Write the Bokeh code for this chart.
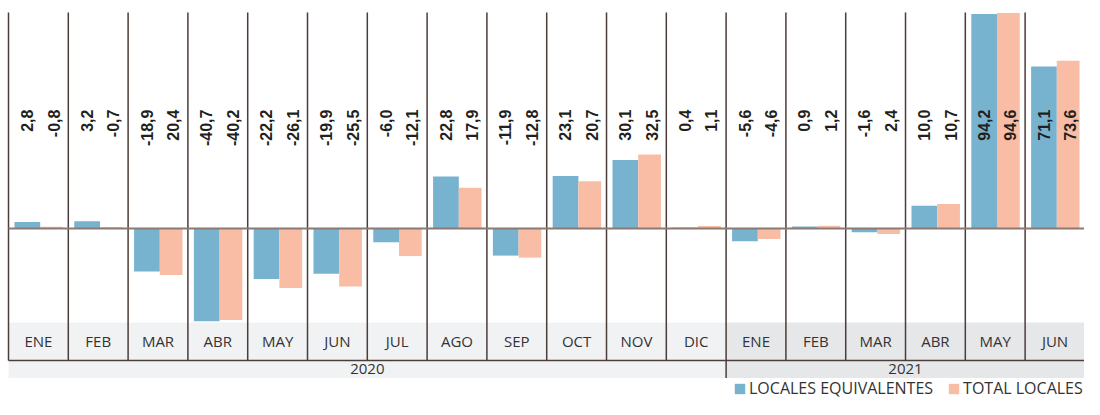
from bokeh.plotting import figure
from bokeh.models import ColumnDataSource, Range1d, Legend, LegendItem
from bokeh.core.properties import value
from bokeh.embed import file_html
from bokeh.resources import INLINE
import math

# ---------------- data ----------------
months = ["ENE", "FEB", "MAR", "ABR", "MAY", "JUN", "JUL", "AGO", "SEP", "OCT", "NOV", "DIC",
          "ENE", "FEB", "MAR", "ABR", "MAY", "JUN"]
years = ["2020"] * 12 + ["2021"] * 6

# bar heights as drawn
equiv_bar = [2.8, 3.2, -18.9, -40.7, -22.2, -19.9, -6.0, 22.8, -11.9, 23.1, 30.1, 0.4,
             -5.6, 0.9, -1.6, 10.0, 94.2, 71.1]
total_bar = [0.8, 0.7, -20.4, -40.2, -26.1, -25.5, -12.1, 17.9, -12.8, 20.7, 32.5, 1.1,
             -4.6, 1.2, -2.4, 10.7, 94.6, 73.6]

# printed value labels
equiv_lbl = ["2,8", "3,2", "-18,9", "-40,7", "-22,2", "-19,9", "-6,0", "22,8", "-11,9", "23,1",
             "30,1", "0,4", "-5,6", "0,9", "-1,6", "10,0", "94,2", "71,1"]
total_lbl = ["-0,8", "-0,7", "20,4", "-40,2", "-26,1", "-25,5", "-12,1", "17,9", "-12,8", "20,7",
             "32,5", "1,1", "-4,6", "1,2", "2,4", "10,7", "94,6", "73,6"]

series_names = ["LOCALES EQUIVALENTES", "TOTAL LOCALES"]

# ---------------- styling ----------------
BLUE = "#77b3cf"
PINK = "#f9bda6"
BAND = {"2020": "#f1f2f3", "2021": "#e6e7e9"}
LINE = "#4b3d39"
TXT = "#231f20"

n = len(months)
idx = list(range(n))

p = figure(width=1084, height=399, output_backend="svg", toolbar_location=None,
           x_range=Range1d(-0.1338, 17.993), y_range=Range1d(-75.07, 100.09),
           x_axis_type=None, y_axis_type=None, min_border=0)
p.outline_line_color = None
p.xgrid.visible = False
p.ygrid.visible = False
p.background_fill_color = "white"

MB_TOP, MB_BOT = -41.3, -57.9
YB_TOP, YB_BOT = -58.3, -65.6
LINE_TOP = 94.8

# month band
mb = ColumnDataSource(dict(left=idx, right=[i + 1 for i in idx],
                           color=[BAND[y] for y in years], month=months,
                           xc=[i + 0.5 for i in idx]))
p.quad(left="left", right="right", top=MB_TOP, bottom=MB_BOT, fill_color="color",
       line_color=None, source=mb)

# year band
yr_names, yr_left, yr_right = [], [], []
for i, y in enumerate(years):
    if not yr_names or yr_names[-1] != y:
        yr_names.append(y)
        yr_left.append(i)
        yr_right.append(i + 1)
    else:
        yr_right[-1] = i + 1
yb = ColumnDataSource(dict(left=yr_left, right=yr_right, name=yr_names,
                           color=[BAND[y] for y in yr_names],
                           xc=[(l + r) / 2 for l, r in zip(yr_left, yr_right)]))
p.quad(left="left", right="right", top=YB_TOP, bottom=YB_BOT, fill_color="color",
       line_color=None, source=yb)

# vertical separators
p.segment(x0=list(range(n + 1)), x1=list(range(n + 1)), y0=MB_BOT, y1=LINE_TOP,
          line_color=LINE, line_width=1.5)
# year divider
p.segment(x0=yr_left[1:], x1=yr_left[1:], y0=MB_BOT, y1=YB_BOT,
          line_color=LINE, line_width=1.5)
# bottom of month band
p.segment(x0=0, x1=n, y0=MB_BOT, y1=MB_BOT, line_color=LINE, line_width=1.5)

# bars
src = ColumnDataSource(dict(
    xb=[i + 0.315 for i in idx], xp=[i + 0.72 for i in idx],
    eb=equiv_bar, tb=total_bar, el=equiv_lbl, tl=total_lbl,
    xlb=[i + 0.31 for i in idx], xlp=[i + 0.755 for i in idx]))
rb = p.vbar(x="xb", width=0.43, top="eb", bottom=0, fill_color=BLUE, line_color=None, source=src)
rp = p.vbar(x="xp", width=0.38, top="tb", bottom=0, fill_color=PINK, line_color=None, source=src)

# zero line
p.segment(x0=0, x1=n, y0=0, y1=0, line_color="#8b7a73", line_width=2)

# value labels
for xcol, lcol in (("xlb", "el"), ("xlp", "tl")):
    p.text(x=xcol, y=52.2, text=lcol, angle=math.pi / 2, text_align="right",
           text_baseline="middle", text_font=value("Liberation Sans"),
           text_font_style="bold", text_font_size="16px", text_color=TXT, source=src)

# month labels
p.text(x="xc", y=-49.6, text="month", text_align="center", text_baseline="middle",
       text_font=value("Open Sans"), text_font_size="15px", text_color="#333333", source=mb)
# year labels
p.text(x="xc", y=-61.9, text="name", text_align="center", text_baseline="middle",
       text_font=value("Open Sans"), text_font_size="15px", text_color="#333333", source=yb)

legend = Legend(items=[LegendItem(label=series_names[0], renderers=[rb]),
                       LegendItem(label=series_names[1], renderers=[rp])],
                orientation="horizontal", location=(733, 0))
legend.border_line_color = None
legend.background_fill_alpha = 0
legend.padding = 0
legend.margin = 0
legend.glyph_width = 13
legend.glyph_height = 13
legend.label_height = 13
legend.label_standoff = 3
legend.spacing = 14
legend.label_text_font = "Open Sans"
legend.label_text_font_size = "16px"
legend.label_text_color = "#333333"
p.add_layout(legend)

open("out.html", "w").write(file_html(p, INLINE))
